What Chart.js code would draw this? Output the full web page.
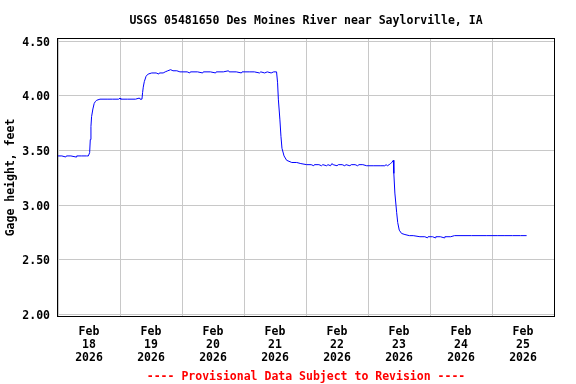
<!DOCTYPE html>
<html>
<head>
<meta charset="utf-8">
<script src="https://cdn.jsdelivr.net/npm/chart.js@4.4.1/dist/chart.umd.min.js"></script>
<style>
    html, body { margin: 0; padding: 0; background: #ffffff; }
    canvas { display: block; }
</style>
</head>
<body>
<canvas id="gageChart" width="576" height="384"></canvas>
<script>
// hours since Feb 18 2026 00:00, gage height in feet
const hours = [
    0, 1.5, 3, 3.25, 5, 7, 7.25, 9, 11, 11.75,
    12.25, 12.5, 12.75, 13.0, 13.5, 14.0, 14.5, 15.0, 16.25, 19,
    21, 23.5, 24, 24.25, 27, 30, 31.5, 31.75, 32.5, 32.75,
    33.0, 33.4, 34.1, 34.9, 36.3, 38, 39, 39.25, 40.7, 41.5,
    42.5, 43.6, 44.5, 46, 47.2, 50, 51, 51.25, 54, 56,
    56.25, 59, 61, 61.25, 64, 66, 66.25, 69, 71, 71.25,
    74, 76, 78, 78.5, 80, 81, 82.5, 83.5, 84.6, 85.0,
    85.3, 85.9, 86.3, 86.7, 87.5, 88.5, 90.5, 92.4, 94, 96.3,
    98, 99, 99.25, 101, 102, 102.5, 104, 104.5, 105.5, 106,
    106.5, 108, 108.5, 110, 111, 111.5, 113, 113.5, 115, 116,
    116.5, 118, 119.5, 122, 125, 126.5, 127, 127.5, 128.2, 128.7,
    129.2, 129.8, 130.0, 130.4, 131.1, 131.5, 132.1, 133.0, 134.3, 136,
    137.5, 140.1, 142, 143, 143.25, 145, 146, 146.25, 148, 149.5,
    149.75, 152, 153.5, 160, 166, 170, 173, 176, 179, 181.4
];
const gageFeet = [
    3.45, 3.45, 3.44, 3.45, 3.45, 3.44, 3.45, 3.45, 3.45, 3.45,
    3.48, 3.60, 3.72, 3.81, 3.88, 3.93, 3.95, 3.96, 3.97, 3.97,
    3.97, 3.97, 3.98, 3.97, 3.97, 3.97, 3.98, 3.97, 3.97, 4.03,
    4.08, 4.13, 4.18, 4.20, 4.21, 4.21, 4.20, 4.21, 4.21, 4.22,
    4.23, 4.24, 4.23, 4.23, 4.22, 4.22, 4.21, 4.22, 4.22, 4.21,
    4.22, 4.22, 4.21, 4.22, 4.22, 4.23, 4.22, 4.22, 4.21, 4.22,
    4.22, 4.22, 4.21, 4.22, 4.21, 4.22, 4.21, 4.22, 4.22, 4.12,
    3.97, 3.78, 3.63, 3.52, 3.45, 3.41, 3.39, 3.39, 3.38, 3.37,
    3.37, 3.36, 3.37, 3.37, 3.36, 3.37, 3.36, 3.37, 3.36, 3.38,
    3.37, 3.36, 3.37, 3.37, 3.36, 3.37, 3.36, 3.37, 3.37, 3.36,
    3.37, 3.37, 3.36, 3.36, 3.36, 3.36, 3.37, 3.36, 3.37, 3.38,
    3.39, 3.41, 3.29, 3.11, 2.93, 2.84, 2.77, 2.74, 2.73, 2.72,
    2.72, 2.71, 2.71, 2.70, 2.71, 2.71, 2.70, 2.71, 2.71, 2.70,
    2.71, 2.71, 2.72, 2.72, 2.72, 2.72, 2.72, 2.72, 2.72, 2.72
];

const monthLabel = 'Feb';
const yearLabel = '2026';
const dayLabels = ['18', '19', '20', '21', '22', '23', '24', '25'];
const yTicks = [2.00, 2.50, 3.00, 3.50, 4.00, 4.50];

const FONT = { family: '"DejaVu Sans Mono", "Liberation Mono", monospace', size: 11.5, weight: 'bold' };

// black frame round the plot area
const frame = {
    id: 'frame',
    afterDatasetsDraw(chart) {
        const { ctx, chartArea: a } = chart;
        ctx.save();
        ctx.strokeStyle = '#000000';
        ctx.lineWidth = 1;
        ctx.strokeRect(Math.round(a.left) - 0.5, Math.round(a.top) - 0.5,
            Math.round(a.right - a.left) + 1, Math.round(a.bottom - a.top) + 1);
        ctx.restore();
    }
};

document.addEventListener('DOMContentLoaded', () => {
    const ctx = document.getElementById('gageChart').getContext('2d');
    new Chart(ctx, {
        type: 'line',
        data: {
            datasets: [{
                data: hours.map((h, i) => ({ x: h, y: gageFeet[i] })),
                borderColor: '#0000ff',
                borderWidth: 1,
                pointRadius: 0,
                tension: 0,
                fill: false
            }]
        },
        options: {
            responsive: false,
            animation: false,
            layout: { padding: { left: 0, right: 22, top: 0, bottom: 0 } },
            plugins: {
                legend: { display: false },
                tooltip: { enabled: false },
                title: {
                    display: true,
                    text: 'USGS 05481650 Des Moines River near Saylorville, IA',
                    color: '#000000',
                    font: FONT,
                    fullSize: false,
                    padding: { top: 14, bottom: 11.2 }
                },
                subtitle: {
                    display: true,
                    position: 'bottom',
                    text: '---- Provisional Data Subject to Revision ----',
                    color: '#ff0000',
                    font: FONT,
                    fullSize: false,
                    padding: { top: 6.2, bottom: 0 }
                }
            },
            scales: {
                x: {
                    type: 'linear',
                    min: 0,
                    max: dayLabels.length * 24,
                    afterFit: (scale) => { scale.height = 48; },
                    afterBuildTicks: (scale) => {
                        const t = [];
                        for (let h = 0; h <= dayLabels.length * 24; h += 12) t.push({ value: h });
                        scale.ticks = t;
                    },
                    grid: {
                        drawTicks: false,
                        color: (c) => (c.tick && c.tick.value % 24 === 0) ? '#c8c8c8' : 'rgba(0,0,0,0)'
                    },
                    border: { display: false },
                    ticks: {
                        autoSkip: false,
                        maxRotation: 0,
                        padding: 10,
                        color: '#000000',
                        font: { ...FONT, lineHeight: 1.11 },
                        callback: (v) => {
                            if (v % 24 !== 12) return '';
                            return [monthLabel, dayLabels[(v - 12) / 24], yearLabel];
                        }
                    }
                },
                y: {
                    min: 1.984,
                    max: 4.521,
                    afterFit: (scale) => { scale.width = 58; },
                    afterBuildTicks: (scale) => {
                        scale.ticks = yTicks.map(v => ({ value: v }));
                    },
                    grid: { drawTicks: false, color: '#c8c8c8' },
                    border: { display: false },
                    title: {
                        display: true,
                        text: 'Gage height, feet',
                        color: '#000000',
                        font: FONT,
                        padding: { top: 4.3, bottom: 0 }
                    },
                    ticks: {
                        padding: 8,
                        labelOffset: 1.5,
                        color: '#000000',
                        font: FONT,
                        callback: (v) => Number(v).toFixed(2)
                    }
                }
            }
        },
        plugins: [frame]
    });
});
</script>
</body>
</html>
